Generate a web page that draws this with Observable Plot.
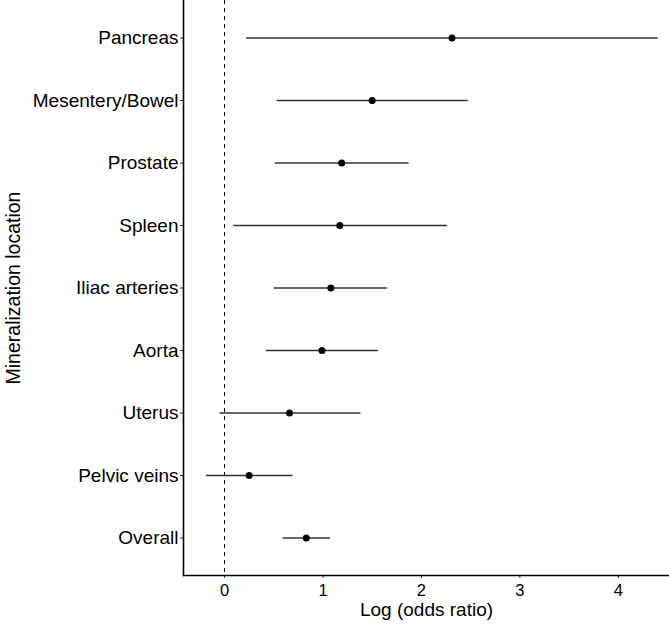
<!DOCTYPE html>
<html>
<head>
<meta charset="utf-8">
<script src="https://cdn.jsdelivr.net/npm/d3@7"></script>
<script src="https://cdn.jsdelivr.net/npm/@observablehq/plot@0.6"></script>
<style>
  html, body { margin: 0; padding: 0; background: #fff; }
</style>
</head>
<body>
<div id="chart"></div>
<script>
const categories = ["Pancreas", "Mesentery/Bowel", "Prostate", "Spleen", "Iliac arteries", "Aorta", "Uterus", "Pelvic veins", "Overall"];
const estimates = [2.31, 1.50, 1.19, 1.17, 1.08, 0.99, 0.66, 0.25, 0.83];
const lower = [0.22, 0.53, 0.51, 0.09, 0.50, 0.42, -0.05, -0.19, 0.59];
const upper = [4.40, 2.47, 1.87, 2.26, 1.65, 1.56, 1.38, 0.69, 1.07];
const xTicks = [0, 1, 2, 3, 4];
const xDomain = [-0.417, 4.52];
const referenceValue = [0];
const xLabel = "Log (odds ratio)";
const yLabel = "Mineralization location";

const data = categories.map((c, i) => ({location: c, est: estimates[i], lo: lower[i], hi: upper[i]}));

const chart = Plot.plot({
  width: 669,
  height: 629,
  marginLeft: 183,
  marginRight: 0,
  marginTop: 0,
  marginBottom: 54,
  style: {fontFamily: "'Liberation Sans', Arial, Helvetica, sans-serif", fontSize: "16px", color: "#000", background: "#fff"},
  x: {domain: xDomain, ticks: xTicks, label: null},
  y: {domain: categories, type: "point", padding: 0.6, round: false, label: null},
  marks: [
    Plot.ruleX(referenceValue, {stroke: "#000", strokeDasharray: "4,4", strokeWidth: 1}),
    Plot.link(data, {x1: "lo", x2: "hi", y1: "location", y2: "location", stroke: "#333", strokeWidth: 1.3}),
    Plot.dot(data, {x: "est", y: "location", r: 3.5, fill: "#000", stroke: null}),
    Plot.axisX({ticks: xTicks, tickFormat: d3.format("d"), tickSize: 3, tickPadding: 6, fontSize: 16.5, label: null, stroke: "#333"}),
    Plot.axisY({tickSize: 3, tickPadding: 2, fontSize: 19, label: null, stroke: "#333"}),
    Plot.frame({anchor: "left", stroke: "#000", strokeWidth: 1.6}),
    Plot.frame({anchor: "bottom", stroke: "#000", strokeWidth: 1.6}),
    Plot.text([xLabel], {text: d => d, frameAnchor: "bottom", dy: 40, fontSize: 19}),
    Plot.text([yLabel], {text: d => d, frameAnchor: "left", textAnchor: "middle", dx: -170, rotate: -90, fontSize: 19.5})
  ]
});
document.getElementById("chart").appendChild(chart);
</script>
</body>
</html>
